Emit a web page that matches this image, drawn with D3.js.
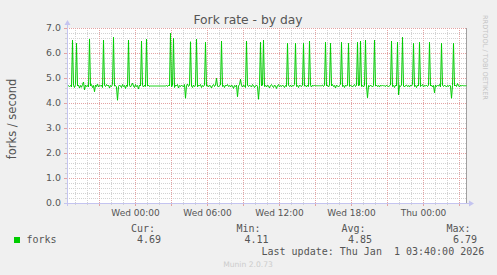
<!DOCTYPE html>
<html>
<head>
<meta charset="utf-8">
<script src="https://cdn.jsdelivr.net/npm/d3@7"></script>
<style>
  body { margin: 0; background: #f0f0f0; }
  svg text { font-family: "DejaVu Sans", sans-serif; }
  .mono { font-family: "DejaVu Sans Mono", monospace; }
</style>
</head>
<body>
<div id="chart"></div>
<script>
// munin day graph: 5 minute samples, Tue 18:20 -> Thu 03:40 (UTC)
const start = Date.UTC(2025, 11, 30, 18, 20);
const end = Date.UTC(2026, 0, 1, 3, 40);
const step = 5 * 60 * 1000;

const forks = [
  4.72, 4.68, 4.66, 4.70, 4.64, 6.52, 4.70, 4.62, 4.74, 6.39, 4.68, 4.72, 4.60, 4.70, 4.63, 4.74, 4.84, 4.52, 4.72, 4.66,
  4.70, 4.64, 6.56, 4.68, 4.74, 4.62, 4.70, 4.45, 4.72, 4.66, 4.76, 4.64, 4.70, 4.68, 4.72, 4.62, 6.52, 4.70, 4.66, 4.74,
  4.68, 4.72, 4.60, 4.70, 4.66, 4.74, 6.63, 4.68, 4.70, 4.64, 4.11, 4.66, 4.72, 4.68, 4.62, 4.74, 4.66, 4.70, 4.58, 4.72,
  4.66, 6.52, 4.70, 4.64, 4.72, 4.80, 4.68, 4.62, 4.74, 4.66, 4.70, 4.56, 4.72, 4.68, 6.48, 4.70, 4.64, 4.72, 4.66, 6.56,
  4.68, 4.72, 4.66, 4.68, 4.68, 4.68, 4.68, 4.68, 4.68, 4.68, 4.68, 4.68, 4.68, 4.68, 4.68, 4.68, 4.68, 4.68, 4.68, 4.70,
  4.66, 4.72, 4.68, 6.79, 4.64, 4.70, 6.59, 4.62, 4.72, 4.68, 4.74, 4.60, 4.70, 4.66, 4.72, 4.68, 4.64, 4.74, 4.19, 4.70,
  4.76, 4.66, 4.70, 6.45, 4.68, 4.62, 4.72, 4.66, 4.70, 6.56, 4.64, 4.72, 4.68, 4.74, 4.62, 4.70, 4.66, 4.72, 6.43, 4.68,
  4.70, 4.64, 4.72, 4.68, 4.60, 4.70, 4.74, 4.66, 4.72, 4.99, 4.68, 4.64, 4.70, 4.72, 6.48, 4.66, 4.70, 4.62, 4.72, 4.68,
  4.74, 4.66, 4.70, 4.64, 4.72, 4.68, 4.58, 4.70, 4.66, 4.72, 4.25, 4.68, 4.74, 4.95, 4.70, 4.64, 4.72, 4.68, 4.62, 6.48,
  4.70, 4.66, 4.72, 4.68, 4.64, 4.74, 4.70, 4.62, 4.68, 4.72, 4.66, 4.15, 4.70, 6.43, 4.68, 4.72, 6.52, 4.66, 4.70, 4.64,
  4.72, 4.68, 4.60, 4.70, 4.74, 4.66, 4.62, 4.72, 4.68, 4.58, 4.70, 4.74, 4.64, 4.70, 4.66, 4.72, 4.68, 4.62, 4.70, 4.66,
  6.39, 4.70, 4.66, 4.72, 4.64, 4.70, 4.68, 4.74, 6.39, 4.66, 4.70, 4.62, 4.72, 4.68, 4.66, 4.72, 6.39, 4.68, 4.70, 4.64,
  4.72, 4.66, 6.48, 4.70, 4.64, 4.72, 4.68, 4.70, 4.69, 4.69, 4.69, 4.69, 4.69, 4.69, 4.69, 4.72, 4.66, 4.70, 6.43, 4.68,
  4.72, 4.64, 4.70, 6.39, 4.68, 4.74, 4.66, 4.70, 4.60, 4.72, 4.68, 4.64, 4.70, 4.74, 6.43, 4.66, 4.70, 4.62, 4.72, 4.68,
  4.70, 6.39, 4.66, 4.72, 4.68, 4.64, 4.70, 4.74, 4.66, 4.70, 6.43, 4.68, 4.72, 6.48, 4.66, 4.70, 4.64, 4.72, 6.52, 4.68,
  4.21, 4.70, 4.66, 4.72, 4.68, 4.64, 4.70, 6.52, 4.68, 4.72, 4.66, 4.70, 4.64, 4.72, 4.68, 4.70, 4.69, 4.69, 4.66, 4.72,
  4.68, 4.64, 4.70, 4.72, 6.48, 4.66, 4.70, 4.62, 4.72, 4.68, 6.43, 4.32, 4.70, 4.66, 4.72, 6.63, 4.68, 4.64, 4.70, 4.72,
  4.66, 4.70, 4.64, 4.72, 4.68, 4.74, 6.39, 4.66, 4.70, 4.62, 4.72, 4.68, 6.43, 4.66, 4.70, 4.74, 4.64, 4.70, 4.68, 4.72,
  4.66, 4.70, 6.43, 4.68, 4.72, 4.64, 4.70, 4.41, 4.72, 4.66, 4.70, 4.68, 4.74, 4.64, 6.39, 4.70, 4.66, 4.72, 4.68, 4.64,
  4.70, 4.66, 4.72, 4.68, 4.19, 4.70, 6.39, 4.68, 4.72, 4.66, 4.78, 4.70, 4.64, 4.72, 4.68, 4.70, 4.69, 4.69, 4.69, 4.69
];

const y_ticks = [0, 1, 2, 3, 4, 5, 6, 7];
const legend_heads = ["Cur:", "Min:", "Avg:", "Max:"];
const legend_vals = ["4.69", "4.11", "4.85", "6.79"];
const last_update = "Last update: Thu Jan  1 03:40:00 2026";

const width = 497, height = 275;
const plot_left = 67, plot_right = 467, plot_top = 28, plot_bottom = 203;

const svg = d3.select("#chart").append("svg")
  .attr("width", width).attr("height", height)
  .style("display", "block");

svg.append("rect").attr("width", width).attr("height", height).attr("fill", "#f0f0f0");

const x = d3.scaleUtc().domain([start, end]).range([plot_left, plot_right]);
const y = d3.scaleLinear().domain([0, 7]).range([plot_bottom, plot_top]);

// canvas
svg.append("rect")
  .attr("x", plot_left).attr("y", plot_top)
  .attr("width", plot_right - plot_left).attr("height", plot_bottom - plot_top)
  .attr("fill", "#ffffff");

const grid = svg.append("g").attr("shape-rendering", "crispEdges");
const minor_col = "#d2d2d2", major_col = "#e3a3a3";

// minor horizontal grid every 0.2
d3.range(1, 35).filter(k => k % 5 != 0).forEach(k => {
  const yy = Math.round(y(k / 5)) + 0.5;
  grid.append("line").attr("x1", plot_left).attr("x2", plot_right).attr("y1", yy).attr("y2", yy)
    .attr("stroke", minor_col).attr("stroke-dasharray", "1,1");
  grid.append("line").attr("x1", plot_left - 2).attr("x2", plot_left).attr("y1", yy).attr("y2", yy)
    .attr("stroke", minor_col);
});

// minor vertical grid every hour
x.ticks(d3.utcHour.every(1)).forEach(t => {
  if (t.getUTCHours() % 3 == 0) return;
  const xx = Math.round(x(t)) + 0.5;
  grid.append("line").attr("x1", xx).attr("x2", xx).attr("y1", plot_top).attr("y2", plot_bottom)
    .attr("stroke", minor_col).attr("stroke-dasharray", "1,1");
  grid.append("line").attr("x1", xx).attr("x2", xx).attr("y1", plot_bottom).attr("y2", plot_bottom + 2)
    .attr("stroke", minor_col);
});

// major grid
y_ticks.forEach(v => {
  const yy = Math.round(y(v)) + 0.5;
  grid.append("line").attr("x1", plot_left).attr("x2", plot_right).attr("y1", yy).attr("y2", yy)
    .attr("stroke", major_col).attr("stroke-dasharray", "1,1");
  grid.append("line").attr("x1", plot_left - 3).attr("x2", plot_left).attr("y1", yy).attr("y2", yy)
    .attr("stroke", major_col);
});
x.ticks(d3.utcHour.every(3)).forEach(t => {
  const xx = Math.round(x(t)) + 0.5;
  grid.append("line").attr("x1", xx).attr("x2", xx).attr("y1", plot_top).attr("y2", plot_bottom)
    .attr("stroke", major_col).attr("stroke-dasharray", "1,1");
  grid.append("line").attr("x1", xx).attr("x2", xx).attr("y1", plot_bottom).attr("y2", plot_bottom + 3)
    .attr("stroke", major_col);
});

// y labels
svg.append("g").selectAll("text")
  .data(y_ticks)
  .enter().append("text")
  .attr("x", 61)
  .attr("y", d => y(d) + 3.4)
  .attr("text-anchor", "end")
  .attr("font-size", "9.4px")
  .attr("fill", "#555")
  .text(d => d.toFixed(1));

// x labels every 6h
const fmt = d3.utcFormat("%a %H:%M");
svg.append("g").selectAll("text")
  .data(x.ticks(d3.utcHour.every(6)))
  .enter().append("text")
  .attr("x", d => x(d) + 0.5)
  .attr("y", 215.5)
  .attr("text-anchor", "middle")
  .attr("font-size", "9px")
  .attr("fill", "#555")
  .text(d => fmt(d));

// right frame line
svg.append("line")
  .attr("x1", plot_right - 0.5).attr("x2", plot_right - 0.5).attr("y1", plot_top).attr("y2", plot_bottom)
  .attr("stroke", "#a0a0a0").attr("shape-rendering", "crispEdges");

// data line
const line = d3.line()
  .x((d, i) => x(start + i * step) + 0.5)
  .y(d => y(d));
svg.append("path")
  .datum(forks)
  .attr("d", line)
  .attr("fill", "none")
  .attr("stroke", "#00cc00")
  .attr("stroke-width", 1);

// axes with arrows
const axis_col = "#c4c4f0";
svg.append("line").attr("x1", plot_left + 0.5).attr("x2", plot_left + 0.5).attr("y1", plot_bottom + 3).attr("y2", plot_top - 6)
  .attr("stroke", axis_col).attr("shape-rendering", "crispEdges");
svg.append("line").attr("x1", plot_left - 3).attr("x2", plot_right + 3).attr("y1", plot_bottom + 0.5).attr("y2", plot_bottom + 0.5)
  .attr("stroke", axis_col).attr("shape-rendering", "crispEdges");
svg.append("path")
  .attr("d", `M${plot_left - 2.5},${plot_top - 3} L${plot_left + 0.5},${plot_top - 8} L${plot_left + 3.5},${plot_top - 3} Z`)
  .attr("fill", axis_col);
svg.append("path")
  .attr("d", `M${plot_right + 2},${plot_bottom - 2.5} L${plot_right + 7},${plot_bottom + 0.5} L${plot_right + 2},${plot_bottom + 3.5} Z`)
  .attr("fill", axis_col);

// title
svg.append("text")
  .attr("x", 248).attr("y", 24)
  .attr("text-anchor", "middle")
  .attr("font-size", "12.3px")
  .attr("fill", "#555")
  .text("Fork rate - by day");

// vertical label
svg.append("text")
  .attr("transform", "translate(15.5,119) rotate(-90)")
  .attr("text-anchor", "middle")
  .attr("font-size", "11.5px")
  .attr("fill", "#555")
  .text("forks / second");

svg.append("text")
  .attr("transform", "translate(483,15) rotate(90)")
  .attr("font-size", "6.6px")
  .attr("fill", "#c4c4c4")
  .text("RRDTOOL / TOBI OETIKER");

// legend
svg.append("rect")
  .attr("x", 14).attr("y", 237).attr("width", 6).attr("height", 6)
  .attr("fill", "#00cc00");
svg.append("text").attr("class", "mono")
  .attr("x", 26.5).attr("y", 243).attr("font-size", "10px").attr("fill", "#555")
  .text("forks");

const head_x = [131, 236.5, 341.5, 446.5];
const val_x = [137, 244.5, 348, 453];
svg.append("g").selectAll("text")
  .data(legend_heads)
  .enter().append("text").attr("class", "mono")
  .attr("x", (d, i) => head_x[i]).attr("y", 231.5)
  .attr("font-size", "10px").attr("fill", "#555")
  .text(d => d);
svg.append("g").selectAll("text")
  .data(legend_vals)
  .enter().append("text").attr("class", "mono")
  .attr("x", (d, i) => val_x[i]).attr("y", 243)
  .attr("font-size", "10px").attr("fill", "#555")
  .text(d => d);

svg.append("text").attr("class", "mono")
  .attr("x", 261.5).attr("y", 254.5)
  .attr("font-size", "10px").attr("fill", "#555")
  .attr("xml:space", "preserve").style("white-space", "pre")
  .text(last_update);

svg.append("text")
  .attr("x", 248).attr("y", 267)
  .attr("text-anchor", "middle")
  .attr("font-size", "7.6px")
  .attr("fill", "#cccccc")
  .text("Munin 2.0.73");
</script>
</body>
</html>
